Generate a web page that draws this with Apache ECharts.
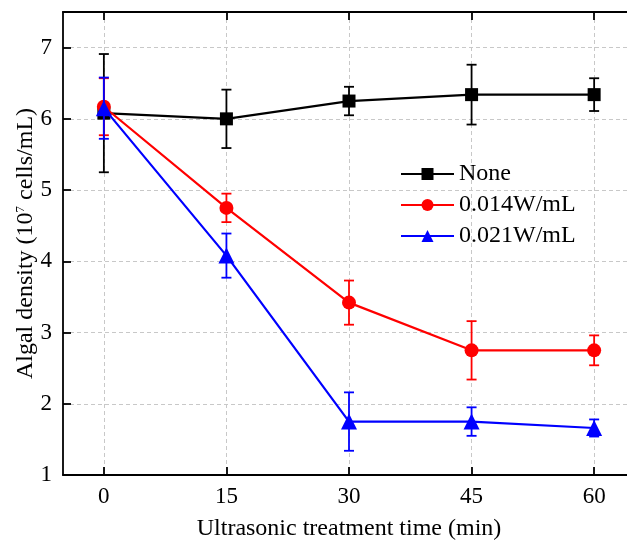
<!DOCTYPE html>
<html><head><meta charset="utf-8">
<script src="https://cdn.jsdelivr.net/npm/echarts@6/dist/echarts.min.js"></script>
<style>html,body{margin:0;padding:0;background:#fff}#c{width:627px;height:543px}</style>
</head><body><div id="c"></div>
<script>
const times = [0, 15, 30, 45, 60];
const xTicks = [0, 15, 30, 45, 60];
const yTicks = [1, 2, 3, 4, 5, 6, 7];
const seriesNames = ['None', '0.014W/mL', '0.021W/mL'];
const noneMean = [6.08, 6.00, 6.25, 6.34, 6.34];
const noneErr = [0.83, 0.41, 0.20, 0.42, 0.23];
const lowMean = [6.17, 4.75, 3.42, 2.75, 2.75];
const lowErr = [0.40, 0.20, 0.31, 0.41, 0.21];
const highMean = [6.15, 4.08, 1.75, 1.75, 1.66];
const highErr = [0.43, 0.31, 0.41, 0.20, 0.12];

const FONT = '"Liberation Serif","Times New Roman",serif';
const colors = ['#000000', '#ff0000', '#0000ff'];
const symbols = ['rect', 'circle', 'triangle'];
const symbolSizes = [13, 14, 16];
const means = [noneMean, lowMean, highMean];
const errs = [noneErr, lowErr, highErr];

function errSeries(mean, err, color, z) {
  return {
    type: 'custom', silent: true, z: z,
    data: times.map((t, i) => [t, mean[i] - err[i], mean[i] + err[i]]),
    encode: { x: 0, y: [1, 2] },
    renderItem(params, api) {
      const x = api.value(0);
      const lo = api.coord([x, api.value(1)]);
      const hi = api.coord([x, api.value(2)]);
      const hw = 5;
      const style = { stroke: color, lineWidth: 1.8, fill: null };
      return { type: 'group', children: [
        { type: 'line', shape: { x1: lo[0], y1: lo[1], x2: hi[0], y2: hi[1] }, style },
        { type: 'line', shape: { x1: lo[0] - hw, y1: lo[1], x2: lo[0] + hw, y2: lo[1] }, style },
        { type: 'line', shape: { x1: hi[0] - hw, y1: hi[1], x2: hi[0] + hw, y2: hi[1] }, style }
      ]};
    }
  };
}

const series = [];
for (let k = 0; k < 3; k++) {
  series.push(errSeries(means[k], errs[k], colors[k], 2 + k * 2));
  series.push({
    name: seriesNames[k], type: 'line', z: 3 + k * 2,
    data: times.map((t, i) => [t, means[k][i]]),
    symbol: symbols[k], symbolSize: symbolSizes[k],
    itemStyle: { color: colors[k] },
    lineStyle: { color: colors[k], width: 2.2 },
    emphasis: { disabled: true }
  });
}

const axisLine = { show: true, onZero: false, lineStyle: { color: '#000', width: 1.8 } };
const tickStyle = { lineStyle: { color: '#000', width: 1.8 } };
const splitLine = { show: true, lineStyle: { color: '#c8c8c8', type: [4, 3], width: 1 } };

const option = {
  animation: false,
  backgroundColor: '#fff',
  grid: { left: 63, right: -8, top: 12, bottom: 68, containLabel: false, outerBoundsMode: 'none' },
  legend: {
    data: seriesNames, orient: 'vertical', left: 400, top: 162, padding: 0,
    itemWidth: 53, itemHeight: 15, itemGap: 7,
    textStyle: { fontFamily: FONT, fontSize: 24, color: '#000' }
  },
  xAxis: [
    { type: 'value', min: -5, max: 65, position: 'bottom', axisLine,
      axisTick: Object.assign({ show: true, inside: true, length: 8, customValues: xTicks }, tickStyle),
      axisLabel: { customValues: xTicks, fontFamily: FONT, fontSize: 23, color: '#000', margin: 10 },
      splitLine,
      name: 'Ultrasonic treatment time (min)', nameLocation: 'middle', nameGap: 42, nameMoveOverlap: false,
      nameTextStyle: { fontFamily: FONT, fontSize: 24, color: '#000' } },
    { type: 'value', min: -5, max: 65, position: 'top', axisLine,
      axisTick: Object.assign({ show: true, inside: true, length: 8, customValues: xTicks }, tickStyle),
      axisLabel: { show: false }, splitLine: { show: false } }
  ],
  yAxis: [
    { type: 'value', min: 1, max: 7.5, position: 'left', axisLine,
      axisTick: Object.assign({ show: true, inside: true, length: 8, customValues: yTicks }, tickStyle),
      axisLabel: { customValues: yTicks, fontFamily: FONT, fontSize: 23, color: '#000', margin: 11 },
      splitLine,
      name: 'Algal density (10{sup|7} cells/mL)', nameLocation: 'middle', nameGap: 25, nameMoveOverlap: false,
      nameTextStyle: { fontFamily: FONT, fontSize: 24, color: '#000',
        rich: { sup: { fontFamily: FONT, fontSize: 13, color: '#000', verticalAlign: 'top', padding: [0, 0, 11, 0] } } } },
    { type: 'value', min: 1, max: 7.5, position: 'right', axisLine,
      axisTick: Object.assign({ show: true, inside: true, length: 8, customValues: yTicks }, tickStyle),
      axisLabel: { show: false }, splitLine: { show: false } }
  ],
  series
};
echarts.init(document.getElementById('c'), null, { renderer: 'canvas' }).setOption(option);
</script></body></html>
